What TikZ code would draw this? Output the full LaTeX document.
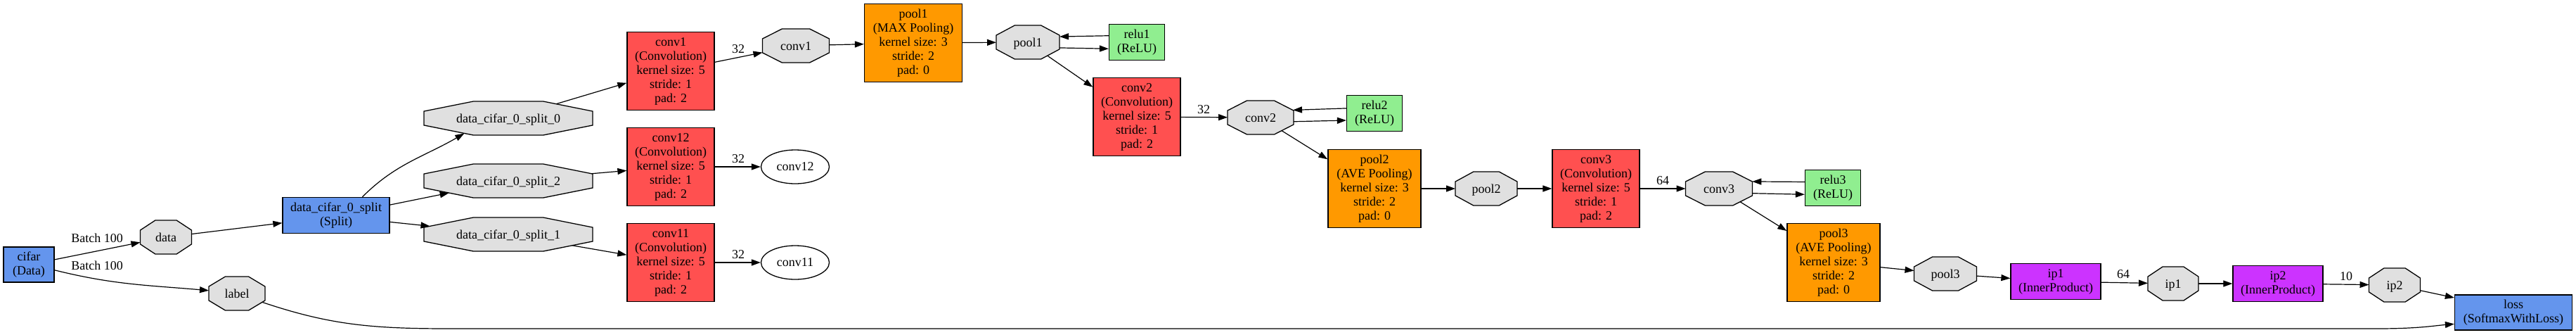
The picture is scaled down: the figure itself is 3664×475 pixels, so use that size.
\documentclass[tikz,border=0pt]{standalone}
\usepackage{fontspec}
\setmainfont{Liberation Serif}
\usepackage{tikz}
\usetikzlibrary{arrows.meta,shapes.geometric}
\usepackage{xcolor}

\definecolor{layerblue}{HTML}{6495ED}
\definecolor{convred}{HTML}{FF5050}
\definecolor{poolorange}{HTML}{FF9900}
\definecolor{relugreen}{HTML}{90EE90}
\definecolor{ippurple}{HTML}{CC33FF}
\definecolor{blobgray}{HTML}{E0E0E0}

% stretched octagon, sized by minimum width and minimum height
\makeatletter
\pgfdeclareshape{octo}{%
  \savedanchor\centerpoint{%
    \pgf@x=.5\wd\pgfnodeparttextbox
    \pgf@y=.5\ht\pgfnodeparttextbox
    \advance\pgf@y by -.5\dp\pgfnodeparttextbox
  }%
  \savedanchor\halfsize{%
    \pgfmathsetlength\pgf@x{.5*\pgfkeysvalueof{/pgf/minimum width}}%
    \pgfmathsetlength\pgf@y{.5*\pgfkeysvalueof{/pgf/minimum height}}%
  }%
  \anchor{center}{\centerpoint}%
  \anchor{text}{\pgfpointorigin}%
  \anchorborder{%
    \edef\octo@dx{\pgf@sys@tonumber\pgf@x}%
    \edef\octo@dy{\pgf@sys@tonumber\pgf@y}%
    \halfsize
    \edef\octo@a{\pgf@sys@tonumber\pgf@x}%
    \edef\octo@b{\pgf@sys@tonumber\pgf@y}%
    \pgfmathsetmacro\octo@s{max(abs(\octo@dx)/\octo@a,abs(\octo@dy)/\octo@b,(abs(\octo@dx)/\octo@a+abs(\octo@dy)/\octo@b)/1.41421)}%
    \pgfmathsetmacro\octo@px{\octo@dx/\octo@s}%
    \pgfmathsetmacro\octo@py{\octo@dy/\octo@s}%
    \centerpoint
    \advance\pgf@x by \octo@px pt
    \advance\pgf@y by \octo@py pt
  }%
  \backgroundpath{%
    \halfsize
    \pgf@xa=\pgf@x \pgf@ya=\pgf@y
    \centerpoint
    \pgf@xc=\pgf@x \pgf@yc=\pgf@y
    \pgf@xb=\pgf@xc \advance\pgf@xb by \pgf@xa \edef\octo@xR{\the\pgf@xb}%
    \pgf@xb=\pgf@xc \advance\pgf@xb by -\pgf@xa \edef\octo@xL{\the\pgf@xb}%
    \pgf@xb=\pgf@xc \advance\pgf@xb by 0.41421\pgf@xa \edef\octo@xr{\the\pgf@xb}%
    \pgf@xb=\pgf@xc \advance\pgf@xb by -0.41421\pgf@xa \edef\octo@xl{\the\pgf@xb}%
    \pgf@yb=\pgf@yc \advance\pgf@yb by \pgf@ya \edef\octo@yT{\the\pgf@yb}%
    \pgf@yb=\pgf@yc \advance\pgf@yb by -\pgf@ya \edef\octo@yB{\the\pgf@yb}%
    \pgf@yb=\pgf@yc \advance\pgf@yb by 0.41421\pgf@ya \edef\octo@yt{\the\pgf@yb}%
    \pgf@yb=\pgf@yc \advance\pgf@yb by -0.41421\pgf@ya \edef\octo@yb{\the\pgf@yb}%
    \pgfpathmoveto{\pgfqpoint{\octo@xR}{\octo@yt}}%
    \pgfpathlineto{\pgfqpoint{\octo@xr}{\octo@yT}}%
    \pgfpathlineto{\pgfqpoint{\octo@xl}{\octo@yT}}%
    \pgfpathlineto{\pgfqpoint{\octo@xL}{\octo@yt}}%
    \pgfpathlineto{\pgfqpoint{\octo@xL}{\octo@yb}}%
    \pgfpathlineto{\pgfqpoint{\octo@xl}{\octo@yB}}%
    \pgfpathlineto{\pgfqpoint{\octo@xr}{\octo@yB}}%
    \pgfpathlineto{\pgfqpoint{\octo@xR}{\octo@yb}}%
    \pgfpathclose
  }%
}
\makeatother

\begin{document}
\begin{tikzpicture}[
    x=1pt, y=1pt,
    layer/.style={
        rectangle,
        draw=black,
        line width=1.3pt,
        align=center,
        inner sep=2pt,
        minimum height=51pt,
        font=\fontsize{18}{20}\selectfont
    },
    conv/.style={layer, fill=convred, minimum width=124pt, minimum height=111pt},
    pool/.style={layer, fill=poolorange, minimum width=132pt, minimum height=111pt},
    relu/.style={layer, fill=relugreen, minimum width=79pt},
    ip/.style={layer, fill=ippurple, minimum width=128pt},
    blob/.style={
        shape=octo,
        draw=black,
        fill=blobgray,
        line width=1.3pt,
        inner sep=0pt,
        minimum width=#1,
        minimum height=48pt,
        text height=16pt,
        text depth=4pt,
        font=\fontsize{18}{20}\selectfont
    },
    outblob/.style={
        ellipse,
        draw=black,
        line width=1.3pt,
        minimum width=97pt,
        minimum height=48pt,
        inner sep=0pt,
        font=\fontsize{18}{20}\selectfont
    },
    lbl/.style={inner sep=0pt, font=\fontsize{18}{20}\selectfont},
    arrow/.style={-{Triangle[length=13pt,width=9pt]}, line width=1.2pt}
]
\useasboundingbox (0,0) rectangle (3664,-475);

% input and split
\node[layer, fill=layerblue, minimum width=72pt, minimum height=50pt] (cifar) at (41,-376) {cifar\\(Data)};
\node[blob=73pt] (datab) at (236,-337) {data};
\node[blob=80pt] (labelb) at (337,-417) {label};
\node[layer, fill=layerblue, minimum width=152pt] (split) at (478,-306) {data\_cifar\_0\_split\\(Split)};
\node[blob=240pt] (split0) at (723,-168) {data\_cifar\_0\_split\_0};
\node[blob=240pt] (split2) at (723,-257) {data\_cifar\_0\_split\_2};
\node[blob=240pt] (split1) at (723,-333) {data\_cifar\_0\_split\_1};

% first convolutions
\node[conv] (conv1) at (954,-101) {conv1\\(Convolution)\\kernel size: 5\\stride: 1\\pad: 2};
\node[conv] (conv12) at (954,-237) {conv12\\(Convolution)\\kernel size: 5\\stride: 1\\pad: 2};
\node[conv] (conv11) at (954,-373) {conv11\\(Convolution)\\kernel size: 5\\stride: 1\\pad: 2};
\node[blob=95pt] (conv1b) at (1132,-65) {conv1};
\node[outblob] (conv12b) at (1131,-237) {conv12};
\node[outblob] (conv11b) at (1131,-373) {conv11};

% main branch
\node[pool, minimum width=139pt] (pool1) at (1299,-61) {pool1\\(MAX Pooling)\\kernel size: 3\\stride: 2\\pad: 0};
\node[blob=90pt] (pool1b) at (1462,-60) {pool1};
\node[relu] (relu1) at (1617,-60) {relu1\\(ReLU)};
\node[conv] (conv2) at (1617,-166) {conv2\\(Convolution)\\kernel size: 5\\stride: 1\\pad: 2};
\node[blob=94pt] (conv2b) at (1793,-167) {conv2};
\node[relu] (relu2) at (1955,-161) {relu2\\(ReLU)};
\node[pool] (pool2) at (1955,-268) {pool2\\(AVE Pooling)\\kernel size: 3\\stride: 2\\pad: 0};
\node[blob=88pt] (pool2b) at (2114,-268) {pool2};
\node[conv] (conv3) at (2270,-268) {conv3\\(Convolution)\\kernel size: 5\\stride: 1\\pad: 2};
\node[blob=95pt] (conv3b) at (2445,-268) {conv3};
\node[relu] (relu3) at (2607,-267) {relu3\\(ReLU)};
\node[pool] (pool3) at (2608,-373) {pool3\\(AVE Pooling)\\kernel size: 3\\stride: 2\\pad: 0};
\node[blob=89pt] (pool3b) at (2767,-389) {pool3};
\node[ip] (ip1) at (2924,-400) {ip1\\(InnerProduct)};
\node[blob=72pt] (ip1b) at (3091,-403) {ip1};
\node[ip] (ip2) at (3240,-403) {ip2\\(InnerProduct)};
\node[blob=73pt] (ip2b) at (3406,-405) {ip2};
\node[layer, fill=layerblue, minimum width=167pt, minimum height=50pt] (loss) at (3575,-444) {loss\\(SoftmaxWithLoss)};

% edge labels
\node[lbl] (batch1) at (138,-338) {Batch 100};
\node[lbl] (batch2) at (138,-377) {Batch 100};
\node[lbl] (num1) at (1050,-70) {32};
\node[lbl] (num2) at (1050,-226) {32};
\node[lbl] (num3) at (1050,-362) {32};
\node[lbl] (num4) at (1712,-156) {32};
\node[lbl] (num5) at (2365,-257) {64};
\node[lbl] (num6) at (3020,-390) {64};
\node[lbl] (num7) at (3337,-393) {10};

\draw[arrow] (cifar.11) -- (datab);
\draw[arrow] (cifar.-12) to[out=-14, in=175] (labelb.174);
\draw[arrow] (datab) -- (split.188);
\draw[arrow] (split.35) to[out=45, in=-150] (split0.199);
\draw[arrow] (split.11) -- (split2);
\draw[arrow] (split.-7) -- (split1);
\draw[arrow] (split0) -- (conv1.195);
\draw[arrow] (split2) -- (conv12);
\draw[arrow] (split1) -- (conv11);
\draw[arrow] (conv1) -- (conv1b);
\draw[arrow] (conv12) -- (conv12b);
\draw[arrow] (conv11) -- (conv11b);
\draw[arrow] (conv1b) -- (pool1);
\draw[arrow] (pool1) -- (pool1b);
\draw[arrow] (relu1.167) -- (pool1b.10);
\draw[arrow] (pool1b.-10) -- (relu1.193);
\draw[arrow] (pool1b) -- (conv2.146);
\draw[arrow] (conv2) -- (conv2b);
\draw[arrow] (relu2.170) -- (conv2b.13);
\draw[arrow] (conv2b.-7) -- (relu2.194);
\draw[arrow] (conv2b) -- (pool2.148);
\draw[arrow] (pool2) -- (pool2b);
\draw[arrow] (pool2b) -- (conv3);
\draw[arrow] (conv3) -- (conv3b);
\draw[arrow] (relu3.168) -- (conv3b.12);
\draw[arrow] (conv3b.-8) -- (relu3.193);
\draw[arrow] (conv3b) -- (pool3.146);
\draw[arrow] (pool3) -- (pool3b);
\draw[arrow] (pool3b) -- (ip1);
\draw[arrow] (ip1) -- (ip1b);
\draw[arrow] (ip1b) -- (ip2);
\draw[arrow] (ip2) -- (ip2b);
\draw[arrow] (ip2b) -- (loss.166);
\draw[arrow] (labelb.-19) .. controls (470,-462) and (530,-467) .. (640,-467)
    -- (3380,-467) .. controls (3440,-467) and (3460,-463) .. (loss.191);

\end{tikzpicture}
\end{document}
